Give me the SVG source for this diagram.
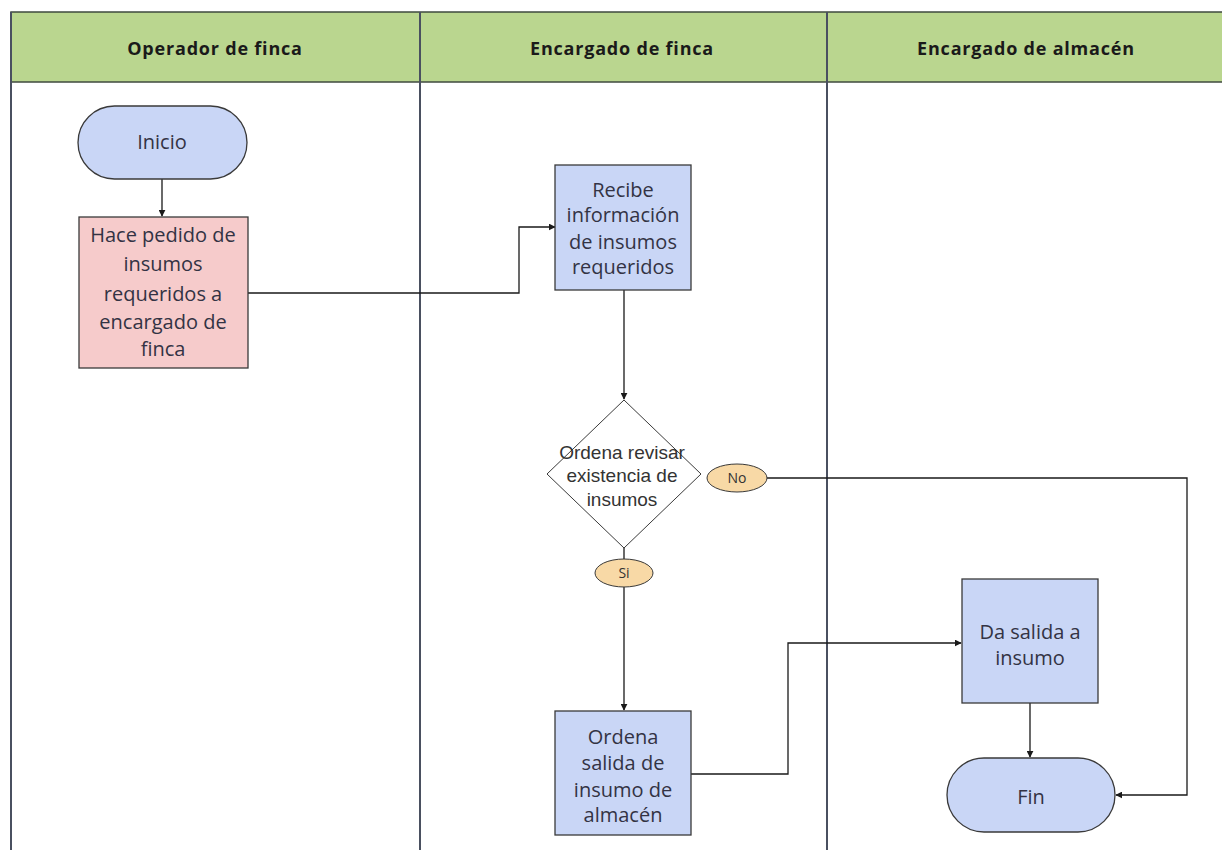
<svg xmlns="http://www.w3.org/2000/svg" width="1222" height="850" viewBox="0 0 1222 850">
<defs>
<marker id="arr" viewBox="0 0 10 10" refX="9" refY="5" markerWidth="7" markerHeight="7" orient="auto" markerUnits="userSpaceOnUse"><path d="M0,0 L10,5 L0,10 z" fill="#1a1a1a"/></marker>
<style>
.hdr{fill:#bad68f;stroke:#3f4a3f;stroke-width:1.5}
.lane{fill:none;stroke:#4a5060;stroke-width:2}
.ht{font-family:"Open Sans","Noto Sans",sans-serif;font-weight:bold;font-size:18px;letter-spacing:0.8px;fill:#1a1a1a;text-anchor:middle}
.box{fill:#c9d6f6;stroke:#3a3a3a;stroke-width:1.3}
.pink{fill:#f6cbcb;stroke:#3a3a3a;stroke-width:1.3}
.lbl{fill:#f8d9a6;stroke:#3a3a3a;stroke-width:1}
.dia{fill:#ffffff;stroke:#3a3a3a;stroke-width:1}
.t{font-family:"Open Sans","Noto Sans",sans-serif;font-size:20px;fill:#333344;text-anchor:middle}
.td{font-family:"Liberation Sans",Arial,sans-serif;font-size:19px;fill:#333333;text-anchor:middle}
.ts{font-family:"Open Sans","Noto Sans",sans-serif;font-size:14px;fill:#333333;text-anchor:middle}
.c{fill:none;stroke:#1a1a1a;stroke-width:1.3}
</style>
</defs>
<rect width="1222" height="850" fill="#ffffff"/>
<g id="lanes">
<rect class="hdr" x="11" y="12" width="1215" height="70"/>
<line class="lane" x1="11" y1="12" x2="11" y2="850"/>
<line class="lane" x1="420" y1="12" x2="420" y2="850"/>
<line class="lane" x1="827" y1="12" x2="827" y2="850"/>
<text class="ht" x="215" y="55">Operador de finca</text>
<text class="ht" x="622" y="55">Encargado de finca</text>
<text class="ht" x="1026" y="55">Encargado de almacén</text>
</g>
<g id="connectors">
<path class="c" d="M162,179 V216" marker-end="url(#arr)"/>
<path class="c" d="M248,293 H519 V227 H555" marker-end="url(#arr)"/>
<path class="c" d="M624,290 V399" marker-end="url(#arr)"/>
<path class="c" d="M624,548 V560"/>
<path class="c" d="M624,587 V710" marker-end="url(#arr)"/>
<path class="c" d="M767,478 H1187 V795 H1116" marker-end="url(#arr)"/>
<path class="c" d="M691,774 H788 V643 H961" marker-end="url(#arr)"/>
<path class="c" d="M1030,703 V757" marker-end="url(#arr)"/>
</g>
<g id="inicio">
<rect class="box" x="78" y="106" width="169" height="73" rx="36.5"/>
<text class="t" x="162" y="149">Inicio</text>
</g>
<g id="hace-pedido">
<rect class="pink" x="79" y="217" width="169" height="151"/>
<text class="t" x="163" y="242">Hace pedido de</text>
<text class="t" x="163" y="271">insumos</text>
<text class="t" x="163" y="301">requeridos a</text>
<text class="t" x="163" y="329">encargado de</text>
<text class="t" x="163" y="356">finca</text>
</g>
<g id="recibe">
<rect class="box" x="555" y="165" width="136" height="125"/>
<text class="t" x="623" y="197">Recibe</text>
<text class="t" x="623" y="222">información</text>
<text class="t" x="623" y="249">de insumos</text>
<text class="t" x="623" y="274">requeridos</text>
</g>
<g id="decision">
<polygon class="dia" points="624,400 701,474 624,548 547,474"/>
<text class="td" x="622" y="459">Ordena revisar</text>
<text class="td" x="622" y="482">existencia de</text>
<text class="td" x="622" y="506">insumos</text>
</g>
<g id="no">
<ellipse class="lbl" cx="737" cy="478" rx="30" ry="14"/>
<text class="ts" x="737" y="483">No</text>
</g>
<g id="si">
<ellipse class="lbl" cx="624" cy="573" rx="29" ry="14"/>
<text class="ts" x="624" y="578">Si</text>
</g>
<g id="ordena-salida">
<rect class="box" x="555" y="711" width="136" height="124"/>
<text class="t" x="623" y="744">Ordena</text>
<text class="t" x="623" y="770">salida de</text>
<text class="t" x="623" y="797">insumo de</text>
<text class="t" x="623" y="822">almacén</text>
</g>
<g id="da-salida">
<rect class="box" x="962" y="579" width="136" height="124"/>
<text class="t" x="1030" y="639">Da salida a</text>
<text class="t" x="1030" y="665">insumo</text>
</g>
<g id="fin">
<rect class="box" x="947" y="758" width="168" height="74" rx="37"/>
<text class="t" x="1031" y="804">Fin</text>
</g>
</svg>
